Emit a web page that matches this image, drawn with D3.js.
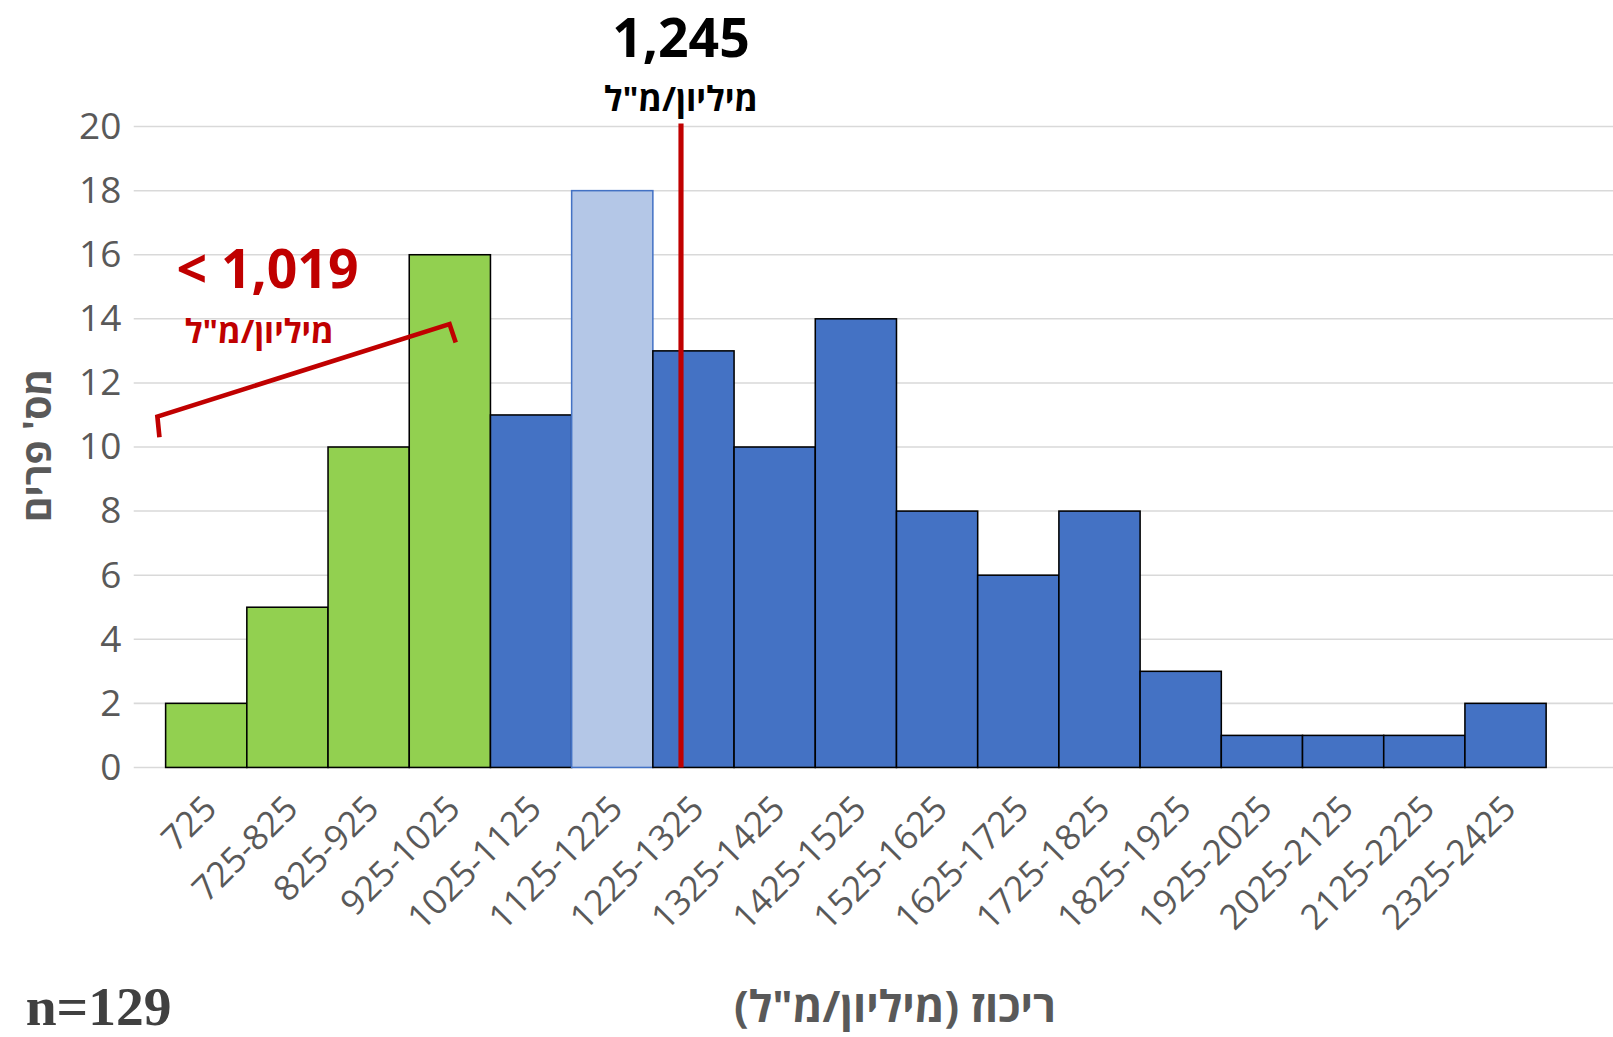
<!DOCTYPE html>
<html><head><meta charset="utf-8">
<script src="https://cdn.jsdelivr.net/npm/d3@7"></script>
<style>body{margin:0;background:#fff}</style>
</head><body>
<svg id="chart" width="1613" height="1037" viewBox="0 0 1568 1008"></svg>
<script>
const categories = ["725","725-825","825-925","925-1025","1025-1125","1125-1225","1225-1325","1325-1425","1425-1525","1525-1625","1625-1725","1725-1825","1825-1925","1925-2025","2025-2125","2125-2225","2325-2425"];
const counts = [2,5,10,16,11,18,13,10,14,8,6,8,3,1,1,1,2];
const groups = ["low","low","low","low","mid","median","mid","mid","mid","mid","mid","mid","mid","mid","mid","mid","mid"];
const yTicks = [0,2,4,6,8,10,12,14,16,18,20];
const medianValue = 1245;
const cutoffValue = 1019;

const fills = {low: "#92d050", mid: "#4472c4", median: "#b4c7e7"};
const grey = "#595959", red = "#c00000";
const svg = d3.select("#chart");

const x = d3.scaleBand().domain(categories).range([161, 1503]).padding(0);
const y = d3.scaleLinear().domain([0, 20]).range([746, 123]);

svg.append("g").selectAll("line").data(yTicks).join("line")
  .attr("x1", 130).attr("x2", 1568)
  .attr("y1", d => y(d)).attr("y2", d => y(d))
  .attr("stroke", "#d9d9d9").attr("stroke-width", 1.5);

const yAxis = svg.append("g").attr("transform", "translate(118,0)")
  .call(d3.axisLeft(y).tickValues(yTicks).tickSize(0).tickPadding(0));
yAxis.select(".domain").remove();
yAxis.selectAll("text").attr("font-family", "Open Sans, sans-serif").attr("font-size", 36).attr("fill", grey);

svg.append("g").selectAll("rect").data(counts).join("rect")
  .attr("x", (d, i) => x(categories[i]))
  .attr("y", d => y(d))
  .attr("width", x.bandwidth())
  .attr("height", d => y(0) - y(d))
  .attr("fill", (d, i) => fills[groups[i]])
  .attr("stroke", (d, i) => groups[i] == "median" ? "#4472c4" : "#000")
  .attr("stroke-width", 1.5);

const xAxis = svg.append("g").attr("transform", "translate(0,746)")
  .call(d3.axisBottom(x).tickSize(0).tickPadding(0));
xAxis.select(".domain").remove();
xAxis.selectAll("text")
  .attr("font-family", "Open Sans, sans-serif").attr("font-size", 34).attr("fill", grey)
  .attr("text-anchor", "end").attr("dy", 0)
  .attr("transform", "translate(12,42) rotate(-45)");

// median line
svg.append("line").attr("x1", 662).attr("x2", 662).attr("y1", 120).attr("y2", y(0))
  .attr("stroke", red).attr("stroke-width", 5);

svg.append("text").attr("x", 662).attr("y", 55).attr("text-anchor", "middle")
  .attr("font-family", "Open Sans, sans-serif").attr("font-weight", "bold").attr("font-size", 52)
  .text(d3.format(",")(medianValue));
svg.append("text").attr("x", 662).attr("y", 108).attr("text-anchor", "middle")
  .attr("font-family", "Open Sans, sans-serif").attr("font-weight", "bold").attr("font-size", 33)
  .text("מיליון/מ\"ל");

// cutoff annotation
svg.append("text").attr("x", 260).attr("y", 280).attr("text-anchor", "middle").attr("direction", "ltr")
  .attr("font-family", "Open Sans, sans-serif").attr("font-weight", "bold").attr("font-size", 52).attr("fill", red)
  .text("< " + d3.format(",")(cutoffValue));
svg.append("text").attr("x", 252).attr("y", 333).attr("text-anchor", "middle")
  .attr("font-family", "Open Sans, sans-serif").attr("font-weight", "bold").attr("font-size", 32).attr("fill", red)
  .text("מיליון/מ\"ל");
svg.append("path").attr("d", "M155,425 L153,405 L437,315 L443,333")
  .attr("fill", "none").attr("stroke", red).attr("stroke-width", 4.5);

svg.append("text").attr("transform", "translate(50,433) rotate(-90)").attr("text-anchor", "middle")
  .attr("font-family", "Open Sans, sans-serif").attr("font-weight", "bold").attr("font-size", 38).attr("fill", grey)
  .text("מס' פרים");
svg.append("text").attr("x", 870).attr("y", 993).attr("text-anchor", "middle")
  .attr("font-family", "Open Sans, sans-serif").attr("font-weight", "bold").attr("font-size", 42).attr("fill", grey)
  .text("ריכוז (מיליון/מ\"ל)");
svg.append("text").attr("x", 25).attr("y", 996)
  .attr("font-family", "Liberation Serif, serif").attr("font-weight", "bold").attr("font-size", 54).attr("fill", "#404040")
  .text("n=129");
</script>
</body></html>
